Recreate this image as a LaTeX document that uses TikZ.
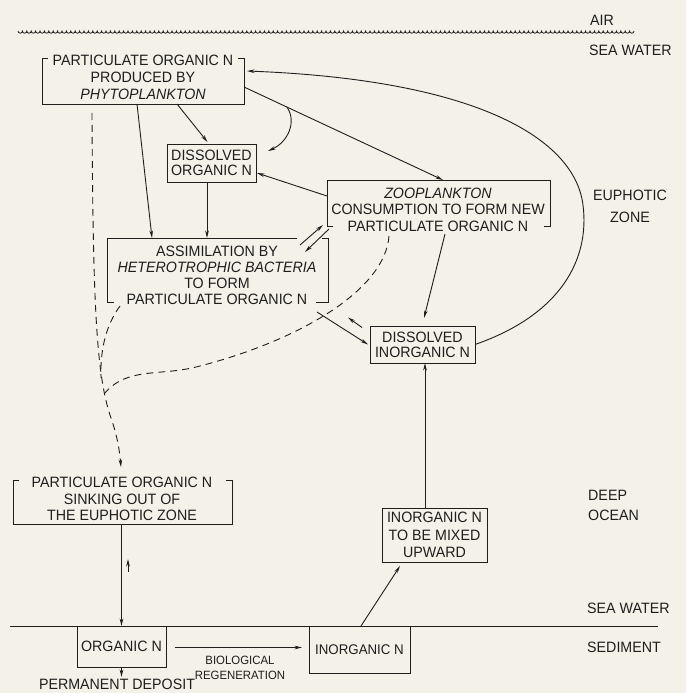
\documentclass[tikz,border=0pt]{standalone}
\usepackage{fontspec}
\setmainfont{Liberation Sans}[FakeStretch=0.95]
\usetikzlibrary{arrows.meta,calc}
\definecolor{bgc}{RGB}{243,241,232}
\definecolor{inkc}{RGB}{30,30,28}
\begin{document}
\begin{tikzpicture}[x=1pt,y=-1pt,
  ink/.style={draw=inkc,line width=0.9pt},
  conn/.style={ink,-{Stealth[length=7.5pt,width=3.6pt]}},
  dconn/.style={conn,dash pattern=on 7pt off 5pt},
  frame/.style n args={2}{inner sep=0pt,outer sep=0pt,minimum width=#1,minimum height=#2},
  lab/.style={font=\fontsize{15}{16.5}\selectfont,text=inkc,inner sep=0pt,align=center},
  boxed/.style={lab,ink},
]
\fill[bgc] (0,0) rectangle (686,693);
\useasboundingbox (0,0) rectangle (686,693);

% surface wave
\draw[draw=inkc,line width=0.8pt] (18,31) \foreach \i in {1,...,140} { arc[start angle=180,end angle=0,radius=2.2] };
\node[lab,anchor=west] (air) at (590,20) {AIR};
\node[lab,anchor=west] (sw1) at (589,50) {SEA WATER};
\node[lab,font=\fontsize{15}{22}\selectfont] (euph) at (630,206) {EUPHOTIC\\ZONE};
\node[lab,align=left,anchor=west,font=\fontsize{15}{20}\selectfont] (deep) at (588,505) {DEEP\\OCEAN};

% bottom boundary
\draw[ink] (10,626) -- (658,626);
\node[lab,anchor=west] (sw2) at (587,608) {SEA WATER};
\node[lab,anchor=west] (sed) at (587,647) {SEDIMENT};

% frames
\node[frame={202}{46}] (phyto) at (143,81) {};
\node[lab,font=\fontsize{15}{17}\selectfont] (phytot) at (143,77.5) {PARTICULATE ORGANIC N\\PRODUCED BY\\\textit{PHYTOPLANKTON}};
\draw[ink] ($(phyto.north west)+(6,0)$) -- (phyto.north west) -- (phyto.south west) -- (phyto.south east) -- (phyto.north east) -- ++(-6,0);

\node[boxed,frame={89}{38},font=\fontsize{15}{15}\selectfont] (dorg) at (211.5,163) {DISSOLVED\\ORGANIC N};

\node[frame={223}{46}] (zoo) at (438.5,203) {};
\node[lab] (zoot) at (438,209.5) {\textit{ZOOPLANKTON}\\CONSUMPTION TO FORM NEW\\PARTICULATE ORGANIC N};
\draw[ink] ($(zoo.south west)+(6,0)$) -- (zoo.south west) -- (zoo.north west) -- (zoo.north east) -- (zoo.south east) -- ++(-6,0);

\node[frame={221}{64}] (assim) at (217.5,270) {};
\node[lab,font=\fontsize{15}{16}\selectfont] (assimt) at (217,275) {ASSIMILATION BY\\\textit{HETEROTROPHIC BACTERIA}\\TO FORM\\PARTICULATE ORGANIC N};
\draw[ink] ($(assim.north west)+(190,0)$) -- (assim.north west) -- (assim.south west) -- ++(7,0);
\draw[ink] ($(assim.north east)+(-6,0)$) -- (assim.north east) -- (assim.south east) -- ++(-12,0);

\node[boxed,frame={105}{37},font=\fontsize{15}{15}\selectfont] (dinorg) at (422.5,344.5) {DISSOLVED\\INORGANIC N};

\node[frame={219}{44}] (sink) at (122.5,502) {};
\node[lab] (sinkt) at (122,499) {PARTICULATE ORGANIC N\\SINKING OUT OF\\THE EUPHOTIC ZONE};
\draw[ink] ($(sink.north west)+(6,0)$) -- (sink.north west) -- (sink.south west) -- (sink.south east) -- (sink.north east) -- ++(-6,0);

\node[boxed,frame={105}{54},font=\fontsize{15}{17.5}\selectfont] (mixed) at (434.5,535) {INORGANIC N\\TO BE MIXED\\UPWARD};

\node[boxed,frame={89}{41}] (orgn) at (121.5,646.5) {ORGANIC N};
\node[boxed,frame={101}{47},font=\fontsize{14}{15}\selectfont] (inorgn) at (359.5,649.5) {INORGANIC N};
\node[lab] (perm) at (117,684) {PERMANENT DEPOSIT};
\node[lab,font=\fontsize{12}{15}\selectfont] (biol) at (240,668) {BIOLOGICAL\\REGENERATION};

% solid connectors
\draw[conn] ($(phyto.south west)+(95,0)$) -- ($(assim.north west)+(45,0)$);
\draw[conn] ($(phyto.south west)+(135,0)$) -- ($(dorg.north)+(-4,-2)$);
\draw[conn] ($(phyto.east)+(0,6)$) -- coordinate[pos=0.216] (split) ($(zoo.north west)+(116,0)$);
\draw[conn] (split) .. controls (297,122) and (288,142) .. ($(dorg.east)+(12,-12)$);
\draw[conn] ($(zoo.west)+(0,-7)$) -- ($(dorg.east)+(1,10)$);
\draw[conn] ($(dorg.south)+(-4.5,0)$) -- ($(assim.north west)+(100,0)$);
\draw[conn] ($(assim.north east)+(-28,7)$) -- ($(zoo.south west)+(-4,-1)$);
\draw[conn] ($(zoo.south west)+(2,3)$) -- ($(assim.north east)+(-23,14)$);
\draw[conn] ($(assim.south east)+(-11,10)$) -- ($(dinorg.west)+(-2,0)$);
\draw[conn] ($(dinorg.west)+(-8,-17)$) -- ($(dinorg.west)+(-22,-27)$);
\draw[conn] ($(zoo.south)+(6.5,8)$) -- ($(dinorg.north)+(1.5,-8)$);
\draw[conn] (dinorg.east) .. controls (560,315) and (590,260) .. (583,205) .. controls (575,140) and (480,80) .. ($(phyto.east)+(3,-10)$);
\draw[conn] ($(mixed.north)+(-9.5,0)$) -- ($(dinorg.south)+(2.5,0)$);
\draw[conn] (orgn.north |- sink.south) -- (orgn.north);
\draw[conn] ($(sink.south)+(5.5,48)$) -- ($(sink.south)+(5.5,35)$);
\draw[conn] ($(orgn.east)+(9,1)$) -- ($(inorgn.west)+(-7,-2)$);
\draw[conn] (orgn.south) -- ($(perm.north)+(4.5,-1.5)$);
\draw[conn] ($(inorgn.north)+(1.5,0)$) -- ($(mixed.south west)+(18,4)$);

% dashed connectors
\coordinate (merge1) at (101,378);
\coordinate (merge2) at (104.4,393.5);
\draw[dconn] ($(phyto.south west)+(50,9)$) .. controls (93,300) and (96,372) .. (110,415) .. controls (116,432) and (119,445) .. ($(sink.north west)+(108,-13)$);
\draw[ink,dash pattern=on 7pt off 5pt] ($(assim.south west)+(13,4)$) .. controls (106,325) and (100,350) .. (merge1);
\draw[ink,dash pattern=on 7pt off 5pt] ($(zoo.south west)+(62,10)$) .. controls (385,290) and (300,340) .. (200,366) .. controls (160,377) and (128,366) .. (merge2);
\end{tikzpicture}
\end{document}
